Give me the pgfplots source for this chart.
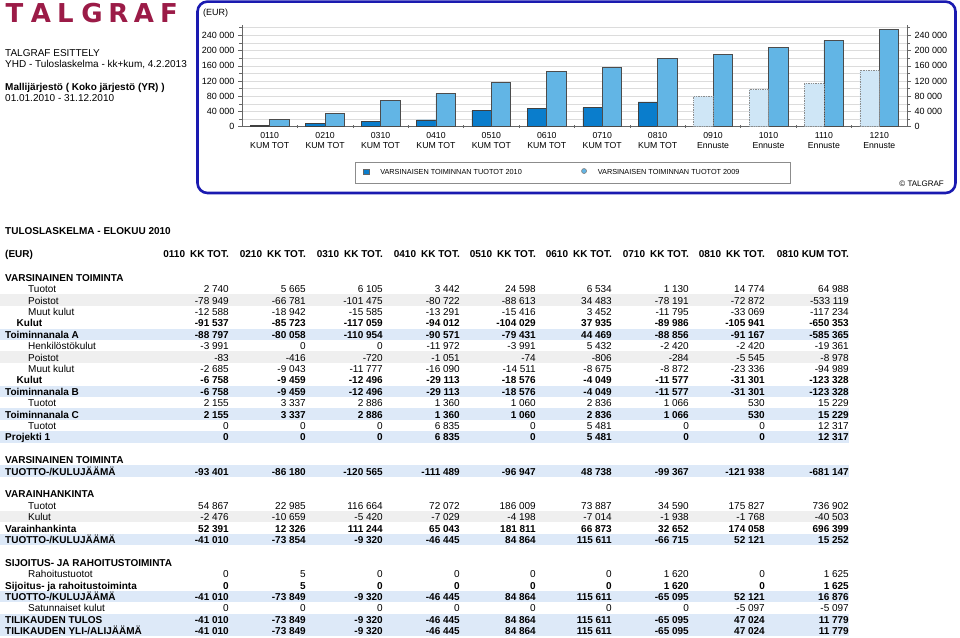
\documentclass[border=0pt]{standalone}
\usepackage{fontspec}
\setmainfont{Liberation Sans}
\newfontfamily\logofont{DejaVu Sans}
\usepackage{pgfplots}
\pgfplotsset{compat=1.18}
\definecolor{darkbar}{HTML}{0A7DCC}
\definecolor{lightbar}{HTML}{62B5E5}
\definecolor{fcbar}{HTML}{CFE6F6}
\definecolor{framec}{HTML}{1A1AB0}
\definecolor{logoc}{HTML}{9B1B47}
\definecolor{rowblue}{HTML}{DDE9F8}
\definecolor{rowgray}{HTML}{EFEFEF}
\definecolor{gridc}{HTML}{DCDCDC}

\newcommand\vals[3]{%
  \foreach \v [count=\i from 0] in {#3} {%
    \pgfmathsetmacro\cx{{229,306,383,460,536,612,689,765,849}[\i]}%
    \node[anchor=base east, inner sep=0pt, font=#2] at (\cx,#1) {\v};%
  }}
\newcommand\trow[5]{%
  \pgfmathsetmacro\by{292.7+11.4*(#1)}%
  \node[anchor=base west, inner sep=0pt, font=#3] at (#2,\by) {#4};%
  \vals{\by}{#3}{#5}}
\newcommand\thead[3]{%
  \pgfmathsetmacro\by{292.7+11.4*(#1)}%
  \node[anchor=base west, inner sep=0pt, font=\bfseries] at (#2,\by) {#3};}
\newcommand\band[2]{%
  \pgfmathsetmacro\by{292.7+11.4*(#1)}%
  \fill[#2] (0,{\by-9.8}) rectangle (849,{\by+1.6});}

\begin{document}
\fontsize{10}{12}\selectfont
\begin{tikzpicture}
\useasboundingbox (0,0) rectangle (960pt,-637pt);
\begin{scope}[x=1pt,y=-1pt]
  % chart frame
  \draw[framec, line width=2.6pt, rounded corners=10pt] (197.5,1.6) rectangle (955.5,193);
  \node[anchor=base west, inner sep=0pt, font=\fontsize{9}{10}\selectfont] at (203,15.3) {(EUR)};
  \node[anchor=base east, inner sep=0pt, font=\fontsize{8}{9}\selectfont] at (944,186) {\textcopyright\ TALGRAF};
  % logo
  \foreach \c/\xx in {T/14.5,A/41,L/65.5,G/92,R/118.5,A/144,F/169}
    \node[anchor=base, inner sep=0pt, text=logoc, font=\logofont\bfseries\fontsize{26}{26}\selectfont] at (\xx,22) {\c};
  % left text
  \node[anchor=base west, inner sep=0pt] at (5,56.7) {TALGRAF ESITTELY};
  \node[anchor=base west, inner sep=0pt] at (5,67.5) {YHD - Tuloslaskelma - kk+kum, 4.2.2013};
  \node[anchor=base west, inner sep=0pt, font=\bfseries] at (5,90.7) {Mallijärjestö ( Koko järjestö (YR) )};
  \node[anchor=base west, inner sep=0pt] at (5,101.7) {01.01.2010 - 31.12.2010};
  % table title and header
  \node[anchor=base west, inner sep=0pt, font=\bfseries] at (5,234.7) {TULOSLASKELMA - ELOKUU 2010};
  \node[anchor=base west, inner sep=0pt, font=\bfseries] at (5,257.5) {(EUR)};
  \vals{257.5}{\bfseries}{0110\hspace{5pt}KK TOT.,0210\hspace{5pt}KK TOT.,0310\hspace{5pt}KK TOT.,0410\hspace{5pt}KK TOT.,0510\hspace{5pt}KK TOT.,0610\hspace{5pt}KK TOT.,0710\hspace{5pt}KK TOT.,0810\hspace{5pt}KK TOT.,0810 KUM TOT.}
  % bands
  \band{1}{rowgray}\band{6}{rowgray}\band{20}{rowgray}
  \foreach \r in {4,9,11,13,16,22,27,29,30} {\band{\r}{rowblue}}
  % rows
  \thead{-1}{5}{VARSINAINEN TOIMINTA}
  \trow{0}{28}{}{Tuotot}{2 740,5 665,6 105,3 442,24 598,6 534,1 130,14 774,64 988}
  \trow{1}{28}{}{Poistot}{-78 949,-66 781,-101 475,-80 722,-88 613,34 483,-78 191,-72 872,-533 119}
  \trow{2}{28}{}{Muut kulut}{-12 588,-18 942,-15 585,-13 291,-15 416,3 452,-11 795,-33 069,-117 234}
  \trow{3}{16.5}{\bfseries}{Kulut}{-91 537,-85 723,-117 059,-94 012,-104 029,37 935,-89 986,-105 941,-650 353}
  \trow{4}{5}{\bfseries}{Toiminnanala A}{-88 797,-80 058,-110 954,-90 571,-79 431,44 469,-88 856,-91 167,-585 365}
  \trow{5}{28}{}{Henkilöstökulut}{-3 991,0,0,-11 972,-3 991,5 432,-2 420,-2 420,-19 361}
  \trow{6}{28}{}{Poistot}{-83,-416,-720,-1 051,-74,-806,-284,-5 545,-8 978}
  \trow{7}{28}{}{Muut kulut}{-2 685,-9 043,-11 777,-16 090,-14 511,-8 675,-8 872,-23 336,-94 989}
  \trow{8}{16.5}{\bfseries}{Kulut}{-6 758,-9 459,-12 496,-29 113,-18 576,-4 049,-11 577,-31 301,-123 328}
  \trow{9}{5}{\bfseries}{Toiminnanala B}{-6 758,-9 459,-12 496,-29 113,-18 576,-4 049,-11 577,-31 301,-123 328}
  \trow{10}{28}{}{Tuotot}{2 155,3 337,2 886,1 360,1 060,2 836,1 066,530,15 229}
  \trow{11}{5}{\bfseries}{Toiminnanala C}{2 155,3 337,2 886,1 360,1 060,2 836,1 066,530,15 229}
  \trow{12}{28}{}{Tuotot}{0,0,0,6 835,0,5 481,0,0,12 317}
  \trow{13}{5}{\bfseries}{Projekti 1}{0,0,0,6 835,0,5 481,0,0,12 317}
  \thead{15}{5}{VARSINAINEN TOIMINTA}
  \trow{16}{5}{\bfseries}{TUOTTO-/KULUJÄÄMÄ}{-93 401,-86 180,-120 565,-111 489,-96 947,48 738,-99 367,-121 938,-681 147}
  \thead{18}{5}{VARAINHANKINTA}
  \trow{19}{28}{}{Tuotot}{54 867,22 985,116 664,72 072,186 009,73 887,34 590,175 827,736 902}
  \trow{20}{28}{}{Kulut}{-2 476,-10 659,-5 420,-7 029,-4 198,-7 014,-1 938,-1 768,-40 503}
  \trow{21}{5}{\bfseries}{Varainhankinta}{52 391,12 326,111 244,65 043,181 811,66 873,32 652,174 058,696 399}
  \trow{22}{5}{\bfseries}{TUOTTO-/KULUJÄÄMÄ}{-41 010,-73 854,-9 320,-46 445,84 864,115 611,-66 715,52 121,15 252}
  \thead{24}{5}{SIJOITUS- JA RAHOITUSTOIMINTA}
  \trow{25}{28}{}{Rahoitustuotot}{0,5,0,0,0,0,1 620,0,1 625}
  \trow{26}{5}{\bfseries}{Sijoitus- ja rahoitustoiminta}{0,5,0,0,0,0,1 620,0,1 625}
  \trow{27}{5}{\bfseries}{TUOTTO-/KULUJÄÄMÄ}{-41 010,-73 849,-9 320,-46 445,84 864,115 611,-65 095,52 121,16 876}
  \trow{28}{28}{}{Satunnaiset kulut}{0,0,0,0,0,0,0,-5 097,-5 097}
  \trow{29}{5}{\bfseries}{TILIKAUDEN TULOS}{-41 010,-73 849,-9 320,-46 445,84 864,115 611,-65 095,47 024,11 779}
  \trow{30}{5}{\bfseries}{TILIKAUDEN YLI-/ALIJÄÄMÄ}{-41 010,-73 849,-9 320,-46 445,84 864,115 611,-65 095,47 024,11 779}
\end{scope}

\begin{axis}[
  at={(242pt,-126.7pt)}, anchor=south west,
  scale only axis, width=665pt, height=102pt,
  xmin=-0.5, xmax=11.5, ymin=0, ymax=268000,
  scaled y ticks=false,
  axis x line*=bottom, axis y line*=left,
  axis line style={-, draw=black!60, line width=0.7pt},
  xtick={0,...,11},
  xticklabels={{0110\\KUM TOT},{0210\\KUM TOT},{0310\\KUM TOT},{0410\\KUM TOT},{0510\\KUM TOT},{0610\\KUM TOT},{0710\\KUM TOT},{0810\\KUM TOT},{0910\\Ennuste},{1010\\Ennuste},{1110\\Ennuste},{1210\\Ennuste}},
  xticklabel style={align=center, font=\fontsize{8.7}{10.3}\selectfont},
  major x tick style={draw=none},
  minor xtick={0.5,1.5,...,10.5},
  xtick align=center,
  ytick={0,40000,...,240000},
  yticklabels={0,40 000,80 000,120 000,160 000,200 000,240 000},
  minor ytick={20000,60000,...,260000},
  ytick align=outside,
  yticklabel style={font=\fontsize{9}{10}\selectfont},
  major tick length=4pt, minor tick length=3pt,
  tick style={draw=black!60, line width=0.6pt},
  ymajorgrids, yminorgrids,
  major grid style={gridc, line width=0.6pt},
  minor grid style={gridc, line width=0.6pt},
  legend columns=2, legend cell align=left,
  legend style={at={(0.497,-0.454)}, anchor=center, draw=black!45, line width=0.5pt,
    font=\fontsize{7.3}{8.5}\selectfont, inner xsep=8pt, inner ysep=5pt,
    /tikz/every odd column/.append style={column sep=9pt},
    /tikz/every even column/.append style={column sep=4pt}},
]
\addplot[ybar, bar width=19.4pt, bar shift=-9.7pt, fill=darkbar, draw=black!75, line width=0.6pt,
  legend image code/.code={\node[draw=black!60, fill=darkbar, inner sep=0pt, minimum size=5.5pt] at (0pt,1pt) {};}]
  coordinates {(0,2740) (1,8405) (2,14510) (3,17952) (4,42550) (5,49084) (6,50214) (7,64988)};
\addlegendentry{\makebox[195pt][l]{VARSINAISEN TOIMINNAN TUOTOT 2010}}
\addplot[ybar, bar width=19.4pt, bar shift=9.7pt, fill=lightbar, draw=black!70, line width=0.6pt,
  legend image code/.code={\node[circle, draw=black!50, fill=lightbar, inner sep=0pt, minimum size=5pt] at (0pt,2pt) {};}]
  coordinates {(0,19400) (1,35000) (2,70000) (3,86600) (4,116500) (5,144400) (6,156700) (7,178500) (8,190800) (9,209000) (10,226800) (11,255600)};
\addlegendentry{\makebox[182pt][l]{VARSINAISEN TOIMINNAN TUOTOT 2009}}
\addplot[ybar, bar width=19.4pt, bar shift=-9.7pt, fill=fcbar, draw=black!45, densely dotted, line width=0.7pt, forget plot]
  coordinates {(8,80000) (9,98000) (10,114000) (11,148000)};
\end{axis}

\begin{axis}[
  at={(242pt,-126.7pt)}, anchor=south west,
  scale only axis, width=665pt, height=102pt,
  xmin=-0.5, xmax=11.5, ymin=0, ymax=268000,
  scaled y ticks=false,
  hide x axis, axis y line*=right,
  axis line style={-, draw=black!60, line width=0.7pt},
  ytick={0,40000,...,240000},
  yticklabels={0,40 000,80 000,120 000,160 000,200 000,240 000},
  minor ytick={20000,60000,...,260000},
  ytick align=outside,
  yticklabel style={font=\fontsize{9}{10}\selectfont},
  major tick length=4pt, minor tick length=3pt,
  tick style={draw=black!60, line width=0.6pt},
]
\end{axis}
\end{tikzpicture}
\end{document}
